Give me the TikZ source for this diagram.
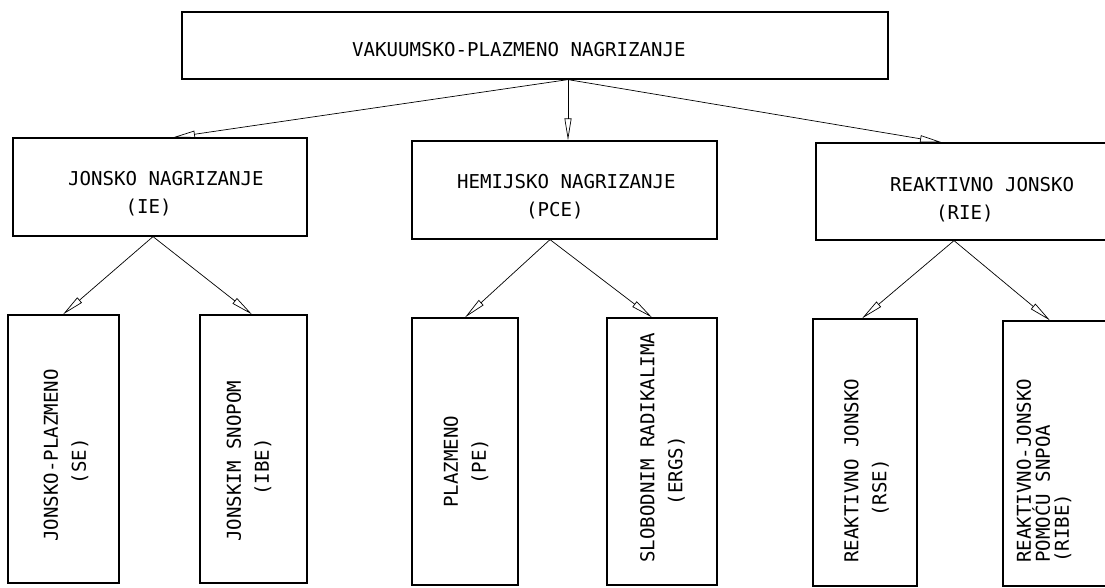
\documentclass[tikz,border=0pt]{standalone}
\usepackage{fontspec}
\usepackage{tikz}
\usetikzlibrary{arrows.meta}
\newfontfamily\pisaca{DejaVu Sans Mono}
\newcommand{\uvuci}[1]{\hspace*{#1\dimexpr 11.5pt\relax}}
\tikzset{>={Triangle[open,length=22pt,width=7pt]}}
\tikzset{blok/.style={draw, line width=1.2pt, inner sep=0pt},
  natpis/.style={font=\pisaca\fontsize{19.1}{28}\selectfont, align=left, inner sep=0pt, anchor=west},
  veza/.style={->, line width=0.7pt}}

\begin{document}
\begin{tikzpicture}[x=1pt,y=-1pt]
  \useasboundingbox (0,0) rectangle (1105,587);
  \clip (0,0) rectangle (1105,587);

  % gornji nivo
  \node[blok, minimum width=706pt, minimum height=67pt] (vpn) at (535,45.5) {};
  \node[natpis] (vpnt) at (352,50) {VAKUUMSKO-PLAZMENO NAGRIZANJE};

  % srednji nivo
  \node[blok, minimum width=294pt, minimum height=98pt] (ie) at (160,187) {};
  \node[blok, minimum width=305pt, minimum height=98pt] (pce) at (564.5,190) {};
  \node[blok, minimum width=314pt, minimum height=97pt] (rie) at (973,191.5) {};
  \node[natpis] (iet) at (68,193.5) {JONSKO NAGRIZANJE\\\uvuci{5}(IE)};
  \node[natpis] (pcet) at (457,197) {HEMIJSKO NAGRIZANJE\\\uvuci{6}(PCE)};
  \node[natpis] (riet) at (890,200) {REAKTIVNO JONSKO\\\uvuci{4}(RIE)};

  % donji nivo
  \node[blok, minimum width=111pt, minimum height=268pt] (se) at (63.5,449) {};
  \node[blok, minimum width=107pt, minimum height=268pt] (ibe) at (253.5,449) {};
  \node[blok, minimum width=106pt, minimum height=267pt] (pe) at (465,451.5) {};
  \node[blok, minimum width=110pt, minimum height=267pt] (ergs) at (662,451.5) {};
  \node[blok, minimum width=104pt, minimum height=267pt] (rse) at (865,452.5) {};
  \node[blok, minimum width=122pt, minimum height=265pt] (ribe) at (1064,453.5) {};
  \node[natpis, rotate=90] (set) at (66,542) {JONSKO-PLAZMENO\\\uvuci{5}(SE)};
  \node[natpis, rotate=90] (ibet) at (249,542) {JONSKIM SNOPOM\\\uvuci{4}(IBE)};
  \node[natpis, rotate=90] (pet) at (466,508) {PLAZMENO\\\uvuci{2}(PE)};
  \node[natpis, rotate=90] (ergst) at (662.5,563) {SLOBODNIM RADIKALIMA\\\uvuci{5}(ERGS)};
  \node[natpis, rotate=90] (rset) at (866.5,563) {REAKTIVNO JONSKO\\\uvuci{4}(RSE)};
  \node[natpis, rotate=90] (ribet) at (1044,563) {REAKTIVNO-JONSKO\\[-9pt]POMOĆU SNPOA\\[-9pt](RIBE)};

  % strelice
  \draw[veza] ([xshift=33pt]vpn.south) -- ([xshift=13pt]ie.north);
  \draw[veza] ([xshift=33pt]vpn.south) -- ([xshift=3.5pt]pce.north);
  \draw[veza] ([xshift=33pt]vpn.south) -- ([xshift=-31pt]rie.north);
  \draw[veza] ([xshift=-7pt]ie.south) -- ([xshift=-0.5pt]se.north);
  \draw[veza] ([xshift=-7pt]ie.south) -- ([xshift=-1.5pt]ibe.north);
  \draw[veza] ([xshift=-14.5pt]pce.south) -- (pe.north);
  \draw[veza] ([xshift=-14.5pt]pce.south) -- ([xshift=-10pt]ergs.north);
  \draw[veza] ([xshift=-19pt]rie.south) -- ([xshift=-3pt]rse.north);
  \draw[veza] ([xshift=-19pt]rie.south) -- ([xshift=-14pt]ribe.north);
\end{tikzpicture}
\end{document}
